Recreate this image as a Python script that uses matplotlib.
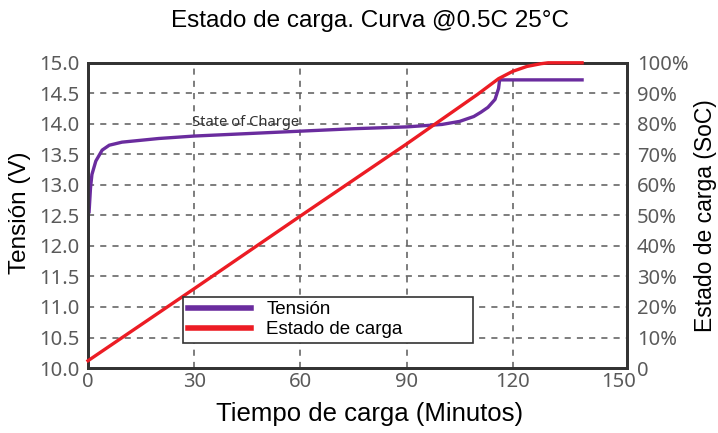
import numpy as np
import matplotlib.pyplot as plt

# Datos
t_tension = [0.3, 0.7, 1.1, 2.2, 4, 6, 9.6, 20, 30, 45, 60, 75, 90, 100, 105, 109, 111, 113, 115, 116, 116.3, 139.6]
tension = [12.56, 12.95, 13.17, 13.39, 13.57, 13.65, 13.70, 13.76, 13.80, 13.84, 13.88, 13.92, 13.95, 13.99, 14.04, 14.12, 14.19, 14.27, 14.40, 14.58, 14.72, 14.72]

t_soc = [0, 30, 60, 90, 110, 116, 120, 124, 128, 130, 139.6]
soc = [2.4, 26.0, 49.8, 73.4, 89.6, 94.8, 97.2, 98.8, 99.7, 100, 100]

x_ticks = [0, 30, 60, 90, 120, 150]
v_ticks = np.arange(10.0, 15.01, 0.5)
soc_ticks = list(range(0, 101, 10))
soc_labels = ['0'] + [f'{v}%' for v in soc_ticks[1:]]

morado = '#6a2c9e'
rojo = '#ec1c24'
gris = '#5a5a5a'

plt.rcParams['font.family'] = ['Liberation Sans', 'DejaVu Sans']

fig = plt.figure(figsize=(7.18, 4.33), dpi=100)
ax = fig.add_axes([0.1226, 0.150, 0.7507, 0.705])
ax2 = ax.twinx()

l1, = ax.plot(t_tension, tension, color=morado, lw=2.4, label='Tensión', zorder=3)
l2, = ax2.plot(t_soc, soc, color=rojo, lw=2.4, label='Estado de carga', clip_on=False, zorder=3)

ax.set_xlim(0, 152.3)
ax.set_ylim(10.0, 15.0)
ax2.set_ylim(0, 100)

ax.set_xticks(x_ticks)
ax.set_yticks(v_ticks)
ax.set_yticklabels([f'{v:.1f}' for v in v_ticks])
ax2.set_yticks(soc_ticks)
ax2.set_yticklabels(soc_labels)

for lab in ax.get_xticklabels() + ax.get_yticklabels() + ax2.get_yticklabels():
    lab.set_fontfamily('Noto Sans')
    lab.set_fontsize(14.5)
    lab.set_color(gris)
ax.tick_params(axis='y', length=0, pad=6)
ax.tick_params(axis='x', length=0, pad=3)
ax2.tick_params(length=0, pad=7)

# rejilla discontinua, sin las líneas de los bordes
ax.grid(True, ls=(0, (4, 4)), color=gris, lw=1.1)
for tk, gl in zip(ax.get_xticks(), ax.xaxis.get_gridlines()):
    if tk <= 0 or tk >= 150:
        gl.set_visible(False)
for tk, gl in zip(ax.get_yticks(), ax.yaxis.get_gridlines()):
    if tk <= 10 or tk >= 15:
        gl.set_visible(False)
ax.set_axisbelow(True)

for a in (ax, ax2):
    for s in a.spines.values():
        s.set_color('#333333')
        s.set_linewidth(2)

ax.set_xlabel('Tiempo de carga (Minutos)', fontsize=18.5)
ax.xaxis.set_label_coords(0.522, -0.112)
ax.set_ylabel('Tensión (V)', fontsize=17.5)
ax.yaxis.set_label_coords(-0.106, 0.51)
ax2.set_ylabel('Estado de carga (SoC)', fontsize=16.5, labelpad=4)
fig.suptitle('Estado de carga. Curva @0.5C 25°C', fontsize=17.5, x=0.515, y=0.978)

ax.text(29.5, 14.03, 'State of Charge', fontsize=10.6, color='#333333',
        family='Noto Sans', va='center', ha='left', zorder=2)

leg = ax2.legend(handles=[l1, l2], loc='lower left',
                 bbox_to_anchor=(0.176, 0.082, 0.538, 0.154), mode='expand',
                 borderaxespad=0, fontsize=13.5, handlelength=3.4, handletextpad=0.8,
                 fancybox=False, edgecolor='#333333', framealpha=1,
                 borderpad=0.25, labelspacing=0.15)
leg.get_frame().set_linewidth(1.2)
for h in leg.get_lines():
    h.set_linewidth(4)

fig.savefig('out.png', dpi=100)
